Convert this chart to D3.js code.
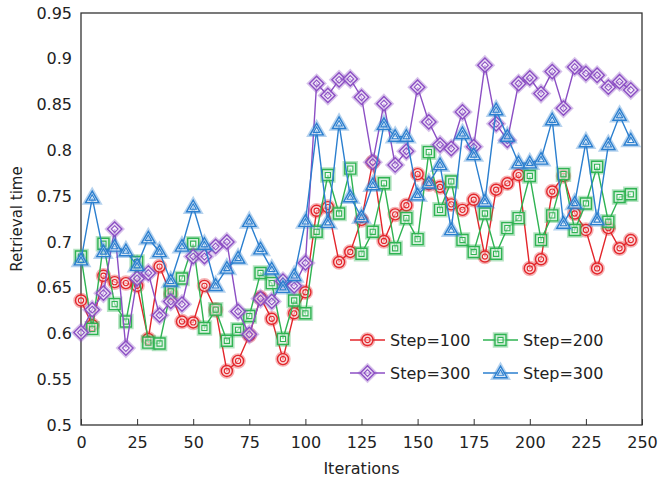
<!DOCTYPE html>
<html>
<head>
<meta charset="utf-8">
<script src="https://cdn.jsdelivr.net/npm/d3@7"></script>
<style>
	body { margin: 0; background: #fff; }
	text { font-family: "DejaVu Sans", Verdana, sans-serif; fill: #222; }
</style>
</head>
<body>
<svg id="chart" width="659" height="481"></svg>
<script>
var iterations = d3.range(0, 250, 5);

var step100 = [0.636, 0.609, 0.663, 0.656, 0.655, 0.652, 0.594, 0.673, 0.643, 0.613,
	0.612, 0.652, 0.626, 0.559, 0.570, 0.598, 0.639, 0.616, 0.572, 0.622,
	0.645, 0.734, 0.738, 0.678, 0.689, 0.724, 0.787, 0.701, 0.730, 0.740,
	0.774, 0.763, 0.760, 0.741, 0.735, 0.746, 0.684, 0.757, 0.764, 0.773,
	0.671, 0.681, 0.755, 0.772, 0.731, 0.713, 0.671, 0.715, 0.693, 0.702];

var step200 = [0.684, 0.605, 0.698, 0.632, 0.613, 0.678, 0.590, 0.589, 0.646, 0.660,
	0.698, 0.606, 0.626, 0.592, 0.604, 0.619, 0.666, 0.655, 0.594, 0.636,
	0.622, 0.711, 0.773, 0.731, 0.780, 0.687, 0.711, 0.764, 0.693, 0.726,
	0.703, 0.798, 0.735, 0.766, 0.702, 0.689, 0.731, 0.687, 0.715, 0.726,
	0.772, 0.702, 0.729, 0.774, 0.713, 0.742, 0.782, 0.722, 0.749, 0.752];

var step300a = [0.601, 0.626, 0.644, 0.714, 0.584, 0.660, 0.666, 0.620, 0.635, 0.632,
	0.684, 0.684, 0.695, 0.700, 0.624, 0.599, 0.638, 0.635, 0.657, 0.652,
	0.677, 0.873, 0.860, 0.877, 0.878, 0.858, 0.787, 0.851, 0.784, 0.799,
	0.869, 0.831, 0.806, 0.802, 0.842, 0.804, 0.893, 0.829, 0.811, 0.873,
	0.879, 0.862, 0.886, 0.846, 0.891, 0.884, 0.882, 0.869, 0.875, 0.866];

var step300b = [0.680, 0.748, 0.689, 0.695, 0.690, 0.674, 0.704, 0.689, 0.657, 0.695,
	0.738, 0.697, 0.652, 0.671, 0.682, 0.722, 0.692, 0.670, 0.650, 0.663,
	0.722, 0.822, 0.721, 0.829, 0.749, 0.727, 0.762, 0.828, 0.815, 0.815,
	0.751, 0.764, 0.784, 0.713, 0.818, 0.795, 0.744, 0.844, 0.815, 0.786,
	0.786, 0.790, 0.833, 0.720, 0.742, 0.809, 0.724, 0.806, 0.838, 0.811];

var seriesNames = ["Step=100", "Step=200", "Step=300", "Step=300"];
var seriesValues = [step100, step200, step300a, step300b];
var seriesColors = ["#e3262b", "#2fb352", "#8c4fc4", "#2b7fcf"];
var seriesShapes = ["circle", "square", "diamond", "triangle"];

var xTicks = d3.range(0, 251, 25);
var yTicks = d3.range(0.5, 0.951, 0.05);

var svg = d3.select("#chart"),
	plotLeft = 81, plotRight = 642, plotTop = 13, plotBottom = 425;

var x = d3.scaleLinear().domain([0, 250]).range([plotLeft, plotRight]);
var y = d3.scaleLinear().domain([0.5, 0.95]).range([plotBottom, plotTop]);

// frame
svg.append("rect")
	.attr("x", plotLeft).attr("y", plotTop)
	.attr("width", plotRight - plotLeft).attr("height", plotBottom - plotTop)
	.attr("fill", "none").attr("stroke", "#333").attr("stroke-width", 1.3);

var xAxis = svg.append("g")
	.attr("transform", "translate(0," + plotBottom + ")")
	.call(d3.axisBottom(x).tickValues(xTicks).tickSize(-6).tickPadding(12).tickFormat(d3.format("d")));
xAxis.select(".domain").remove();
xAxis.selectAll("line").attr("stroke", "#333");
xAxis.selectAll("text").style("font-size", "16px").attr("font-family", null);

var yAxis = svg.append("g")
	.attr("transform", "translate(" + plotLeft + ",0)")
	.call(d3.axisLeft(y).tickValues(yTicks).tickSize(0).tickPadding(9).tickFormat(function(d) { return +d.toFixed(2); }));
yAxis.select(".domain").remove();
yAxis.selectAll("text").style("font-size", "16px").attr("font-family", null);

svg.append("text")
	.attr("x", (plotLeft + plotRight) / 2).attr("y", 474)
	.attr("text-anchor", "middle")
	.style("font-size", "16px")
	.text("Iterations");

svg.append("text")
	.attr("transform", "translate(22," + ((plotTop + plotBottom) / 2) + ") rotate(-90)")
	.attr("text-anchor", "middle")
	.style("font-size", "15px")
	.text("Retrieval time");

function shapePath(shape, s) {
	switch(shape) {
		case "circle":
			return "M" + (-s) + " 0a" + s + " " + s + " 0 1 0 " + (2 * s) + " 0a" + s + " " + s + " 0 1 0 " + (-2 * s) + " 0z";
		case "square":
			return "M" + (-s) + " " + (-s) + "h" + (2 * s) + "v" + (2 * s) + "h" + (-2 * s) + "z";
		case "diamond":
			return "M0 " + (-s * 1.3) + "L" + (s * 1.3) + " 0L0 " + (s * 1.3) + "L" + (-s * 1.3) + " 0z";
		case "triangle":
			return "M0 " + (-s * 1.25) + "L" + (s * 1.2) + " " + (s * 0.85) + "L" + (-s * 1.2) + " " + (s * 0.85) + "z";
	}
}

function marker(g, shape, color) {
	g.append("path")
		.attr("d", shapePath(shape, 5.5))
		.attr("fill", color).attr("fill-opacity", 0.12)
		.attr("stroke", color).attr("stroke-opacity", 0.35).attr("stroke-width", 4.5);
	g.append("path")
		.attr("d", shapePath(shape, 5.5))
		.attr("fill", "#fff").attr("fill-opacity", 0.55)
		.attr("stroke", color).attr("stroke-width", 1.4);
	g.append("path")
		.attr("d", shapePath(shape, 2.6))
		.attr("fill", "none")
		.attr("stroke", color).attr("stroke-width", 1.1);
}

var line = d3.line()
	.x(function(d, i) { return x(iterations[i]); })
	.y(function(d) { return y(d); });

seriesValues.forEach(function(values, k) {
	var g = svg.append("g").attr("class", "series");
	g.append("path")
		.attr("d", line(values))
		.attr("fill", "none")
		.attr("stroke", seriesColors[k])
		.attr("stroke-width", 1.4);
	g.selectAll(".pt")
		.data(values)
		.enter()
		.append("g")
		.attr("class", "pt")
		.attr("transform", function(d, i) { return "translate(" + x(iterations[i]) + "," + y(d) + ")"; })
		.each(function() { marker(d3.select(this), seriesShapes[k], seriesColors[k]); });
});

// legend, two columns
var legend = svg.append("g");
seriesNames.forEach(function(name, k) {
	var lx = k % 2 ? 483 : 350,
		ly = k < 2 ? 340 : 373,
		item = legend.append("g").attr("transform", "translate(" + lx + "," + ly + ")");
	item.append("line")
		.attr("x1", 0).attr("x2", 35)
		.attr("stroke", seriesColors[k]).attr("stroke-width", 1.4);
	marker(item.append("g").attr("transform", "translate(17.5,0)"), seriesShapes[k], seriesColors[k]);
	item.append("text")
		.attr("x", 40).attr("dy", "0.35em")
		.style("font-size", "16px")
		.text(name);
});
</script>
</body>
</html>
